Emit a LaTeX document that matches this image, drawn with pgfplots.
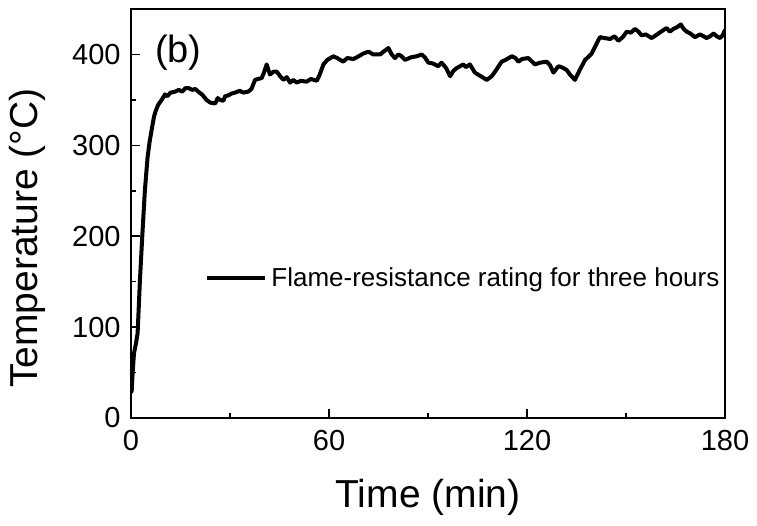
\documentclass[border=0pt]{standalone}
\usepackage{fontspec}
\setmainfont{Liberation Sans}
\usepackage{pgfplots}
\pgfplotsset{compat=1.18}
\begin{document}
\begin{tikzpicture}
\begin{axis}[
  scale only axis,
  width=297pt, height=204.5pt,
  xmin=0, xmax=180, ymin=0, ymax=450,
  xtick={0,60,120,180}, ytick={0,100,200,300,400},
  minor xtick={30,90,150}, minor ytick={50,150,250,350},
  xtick pos=bottom, ytick pos=left,
  tick align=inside,
  major tick length=4.5pt, minor tick length=2.5pt,
  axis line style={line width=0.75pt},
  every tick/.style={line width=0.75pt, black},
  /pgf/number format/assume math mode=true,
  every tick label/.append style={font=\fontsize{14.5}{15}\selectfont, inner sep=0pt},
  xticklabel style={yshift=-6pt},
  yticklabel style={xshift=-5pt},
  xlabel={Time (min)},
  ylabel={Temperature (°C)},
  label style={font=\fontsize{19.5}{21}\selectfont, inner sep=0pt},
  xlabel style={at={(axis description cs:0.5,-0.22)}, anchor=base},
  ylabel style={at={(axis description cs:-0.158,0.44)}, anchor=base, rotate=0},
  legend style={draw=none, fill=none, inner sep=0pt, at={(0.1246,0.342)}, anchor=west,
    font=\fontsize{13}{14}\selectfont, nodes={inner sep=0pt}},
  legend image code/.code={\draw[#1] (0pt,0pt) -- (29pt,0pt); \path (31pt,0pt);},
]
\addplot[black, line width=2pt, line join=round] table {
0 30
0.2 29
0.5 50
0.9 71
1.5 82
2.0 93
2.7 151
3.4 199
4.2 250
5.0 286
5.6 303
6.3 318
7.0 332
7.5 338
8.3 345
9.3 350
10.3 356
11 354
12 358
13.3 359
14.5 361
15.5 359
16.5 363
17.4 363
18.5 361
19.5 362
20.4 359
21.5 356
22.9 350
24 347
25.5 346
26.3 352
27 350
28 349
28.5 354
29.5 355
30.5 357
31.5 358
33 360
34 358
35.5 359
36.5 362
37.6 372
38.5 373
39.6 374
40.3 380
41.1 389
42.1 378
43.2 381
44.2 381
45.2 376
46.2 372
47.2 375
48.2 369
49.2 372
50.2 369
51.5 371
53.2 370
54.5 373
56.3 371
57.2 378
58.3 389
59.5 394
61.3 398
62.5 396
64.3 392
65.5 396
67.4 395
69 398
70.4 401
72 403
73.4 400
75.5 400
76.5 403
78 407
79 400
80 396
81 400
82 398
83 394
85 397
86.6 398
88.1 400
89 397
90.1 391
91.5 390
93.1 387
94.1 391
95.5 385
96.7 376
97.7 382
98.7 385
100.7 389
101.5 386
102.7 389
104.2 380
106 376
107.8 372
109.3 376
110.5 382
112.3 392
113.5 394
115.4 398
116.5 396
117.4 392
118.5 395
120.4 396
122.4 389
124 391
126 392
127 388
128 380
129.5 387
130.5 386
132 383
133 378
134.5 372
136 383
137.6 394
138.5 397
139.6 401
141.1 412
142.1 419
143.5 418
145.2 417
146.5 420
147.7 415
149 419
150.2 425
151.5 424
152.7 428
153.8 425
154.7 421
156 422
157.8 418
159 421
159.8 423
161 426
162.3 429
163.3 425
164.3 428
165.5 430
166.6 433
167.5 428
168.4 425
169.5 423
170.9 419
172.4 422
173.5 420
174.4 418
175.5 420
176.5 423
177.5 420
178.5 418
179.3 421
180 427
};
\addlegendentry{Flame-resistance rating for three hours}
\node[anchor=base west, inner sep=0pt, font=\fontsize{19}{21}\selectfont] at (rel axis cs:0.04,0.87) {(b)};
\end{axis}
\pgfresetboundingbox
\path ([shift={(-65.5pt,-54pt)}]current axis.south west) rectangle ([shift={(16pt,4.5pt)}]current axis.north east);
\end{tikzpicture}
\end{document}
